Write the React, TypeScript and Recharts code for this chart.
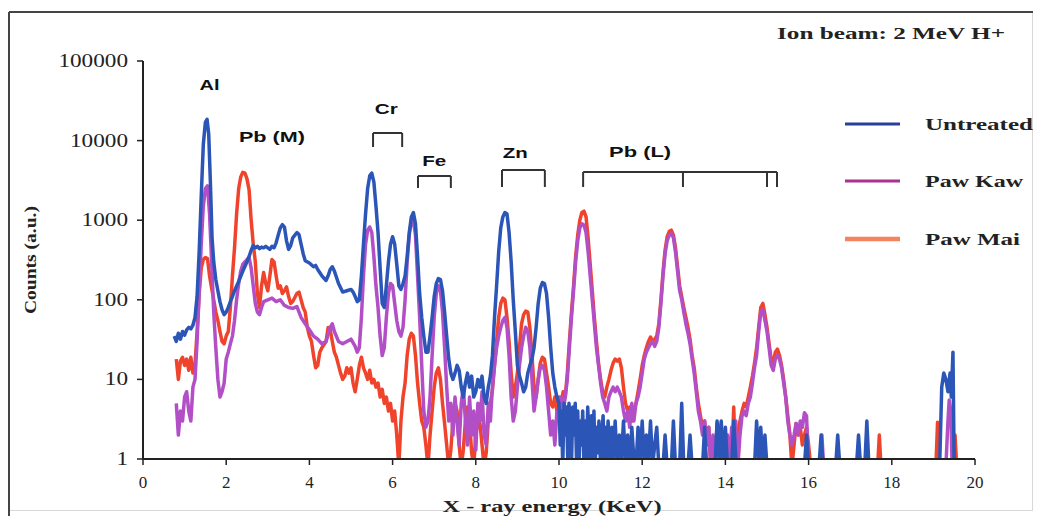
import { LineChart, Line, XAxis, YAxis, ReferenceLine } from 'recharts';

// PIXE spectra, energy (keV) vs counts; 0.8 = empty channel (drawn below the axis)
const untreated: [number, number][] = [
    [0.75, 35], [0.8, 30], [0.85, 38], [0.9, 32], [0.95, 40], [1.0, 36], [1.05, 42], [1.1, 45], [1.15, 43], [1.2, 48],
    [1.25, 60], [1.3, 110], [1.35, 400], [1.4, 2000], [1.45, 9000], [1.5, 17000], [1.54, 18500], [1.58, 12000], [1.62, 3000],
    [1.66, 600], [1.7, 300], [1.75, 180], [1.8, 130], [1.85, 95], [1.9, 75], [1.95, 65], [2.0, 70], [2.05, 80], [2.1, 95],
    [2.15, 110], [2.2, 130], [2.3, 170], [2.4, 230], [2.5, 300], [2.55, 350], [2.6, 420], [2.65, 480], [2.7, 450], [2.75, 470],
    [2.8, 440], [2.85, 460], [2.9, 450], [2.95, 470], [3.0, 450], [3.05, 430], [3.1, 470], [3.15, 450], [3.2, 520], [3.25, 650],
    [3.3, 800], [3.35, 880], [3.4, 820], [3.45, 550], [3.5, 430], [3.55, 480], [3.6, 600], [3.7, 700], [3.75, 660], [3.8, 500],
    [3.85, 380], [3.9, 310], [4.0, 290], [4.1, 260], [4.15, 270], [4.2, 240], [4.3, 200], [4.4, 175], [4.45, 200], [4.5, 240],
    [4.55, 260], [4.6, 230], [4.7, 160], [4.8, 125], [4.9, 130], [5.0, 135], [5.05, 125], [5.1, 110], [5.15, 95], [5.2, 100],
    [5.25, 200], [5.3, 500], [5.35, 1200], [5.4, 2500], [5.45, 3600], [5.5, 3900], [5.55, 3000], [5.6, 1500], [5.65, 700],
    [5.7, 250], [5.75, 90], [5.8, 80], [5.85, 150], [5.9, 300], [5.95, 500], [6.0, 620], [6.05, 500], [6.1, 280], [6.15, 150],
    [6.2, 135], [6.25, 160], [6.3, 200], [6.35, 350], [6.4, 700], [6.45, 1100], [6.5, 1250], [6.55, 900], [6.6, 350],
    [6.65, 120], [6.7, 60], [6.75, 35], [6.8, 22], [6.85, 22], [6.9, 35], [6.95, 60], [7.0, 110], [7.05, 160], [7.1, 185],
    [7.15, 180], [7.2, 130], [7.25, 70], [7.3, 35], [7.35, 18], [7.4, 12], [7.45, 10], [7.5, 12], [7.55, 15], [7.6, 13],
    [7.65, 8], [7.7, 6], [7.75, 9], [7.8, 12], [7.85, 8], [7.9, 11], [7.95, 6], [8.0, 7], [8.05, 10], [8.1, 8], [8.15, 11],
    [8.2, 6], [8.25, 5], [8.3, 8], [8.35, 11], [8.4, 20], [8.45, 60], [8.5, 150], [8.55, 400], [8.6, 800], [8.65, 1100],
    [8.7, 1250], [8.75, 1200], [8.8, 700], [8.85, 300], [8.9, 100], [8.95, 40], [9.0, 15], [9.05, 11], [9.1, 9], [9.15, 7],
    [9.2, 8], [9.25, 12], [9.3, 15], [9.35, 18], [9.4, 25], [9.45, 45], [9.5, 90], [9.55, 140], [9.6, 165], [9.65, 160],
    [9.7, 120], [9.75, 60], [9.8, 25], [9.85, 12], [9.9, 8], [9.95, 6], [10.0, 5], [10.03, 1.5], [10.06, 4], [10.09, 0.8],
    [10.12, 5], [10.15, 2], [10.18, 4.5], [10.21, 1], [10.24, 5], [10.27, 3], [10.3, 0.8], [10.33, 4.5], [10.36, 2], [10.39, 5],
    [10.42, 1], [10.45, 4], [10.48, 0.8], [10.51, 3], [10.54, 1.5], [10.57, 4], [10.6, 0.8], [10.63, 3], [10.66, 1], [10.69, 4.5],
    [10.72, 2], [10.75, 0.8], [10.78, 3.5], [10.81, 1], [10.84, 4], [10.87, 0.8], [10.9, 2.5], [10.93, 1.2], [10.96, 3],
    [11.0, 0.8], [11.03, 2], [11.06, 3.5], [11.09, 1], [11.12, 2.5], [11.15, 0.8], [11.18, 3], [11.21, 1.5], [11.24, 0.8],
    [11.27, 2.5], [11.3, 1], [11.35, 3], [11.4, 0.8], [11.45, 2], [11.5, 1], [11.55, 3], [11.6, 0.8], [11.65, 2], [11.7, 0.8],
    [11.75, 2.5], [11.8, 1], [11.85, 0.8], [11.9, 2.5], [11.95, 1], [12.0, 3], [12.05, 0.8], [12.1, 2], [12.15, 1], [12.2, 3],
    [12.25, 0.8], [12.3, 1.5], [12.35, 2.5], [12.4, 0.8], [12.5, 0.8], [12.55, 2], [12.6, 0.8], [12.7, 0.8], [12.75, 3],
    [12.8, 0.8], [12.9, 0.8], [12.95, 5], [13.0, 0.8], [13.1, 0.8], [13.15, 2], [13.2, 0.8], [13.45, 0.8], [13.5, 2.5],
    [13.55, 0.8], [13.75, 0.8], [13.8, 3], [13.85, 1], [13.9, 3], [13.95, 0.8], [14.0, 2.5], [14.05, 0.8], [14.15, 0.8],
    [14.2, 3], [14.25, 1], [14.3, 0.8], [14.7, 0.8], [14.75, 3], [14.8, 1], [14.85, 2.5], [14.9, 0.8], [14.95, 2], [15.0, 0.8],
    [15.9, 0.8], [15.95, 2], [16.0, 0.8], [16.25, 0.8], [16.3, 2], [16.35, 0.8], [16.65, 0.8], [16.7, 2], [16.75, 0.8],
    [17.15, 0.8], [17.2, 2], [17.25, 0.8], [17.35, 0.8], [17.4, 3], [17.45, 0.8], [19.15, 0.8], [19.2, 8], [19.25, 12],
    [19.3, 10], [19.35, 7], [19.4, 12], [19.43, 6], [19.47, 22], [19.5, 0.8],
];

const pawKaw: [number, number][] = [
    [0.8, 5], [0.85, 2], [0.9, 4], [0.95, 3], [1.0, 6], [1.05, 7], [1.1, 4], [1.15, 3], [1.2, 8], [1.25, 10], [1.3, 30],
    [1.35, 120], [1.4, 500], [1.45, 1500], [1.5, 2500], [1.55, 2700], [1.6, 1200], [1.65, 300], [1.7, 70], [1.75, 25],
    [1.8, 10], [1.85, 6], [1.9, 7], [1.95, 9], [2.0, 18], [2.05, 22], [2.1, 28], [2.15, 35], [2.2, 55], [2.25, 100],
    [2.3, 160], [2.35, 230], [2.4, 280], [2.45, 300], [2.5, 320], [2.55, 340], [2.6, 250], [2.65, 150], [2.7, 90],
    [2.75, 70], [2.8, 65], [2.85, 80], [2.9, 95], [3.0, 100], [3.1, 105], [3.2, 95], [3.3, 100], [3.4, 85], [3.5, 80],
    [3.6, 78], [3.7, 82], [3.8, 60], [3.9, 50], [4.0, 42], [4.1, 35], [4.2, 32], [4.3, 28], [4.4, 30], [4.5, 45], [4.55, 50],
    [4.6, 40], [4.7, 30], [4.8, 28], [4.9, 30], [5.0, 32], [5.1, 26], [5.15, 22], [5.2, 25], [5.25, 60], [5.3, 200],
    [5.35, 500], [5.4, 750], [5.45, 820], [5.5, 700], [5.55, 350], [5.6, 150], [5.65, 80], [5.7, 35], [5.75, 20], [5.8, 25],
    [5.85, 60], [5.9, 120], [5.95, 160], [6.0, 150], [6.05, 90], [6.1, 55], [6.15, 40], [6.2, 35], [6.25, 45], [6.3, 100],
    [6.35, 300], [6.4, 650], [6.45, 950], [6.5, 1000], [6.55, 650], [6.6, 200], [6.65, 60], [6.7, 15], [6.75, 4], [6.8, 2.5],
    [6.85, 3], [6.9, 6], [6.95, 20], [7.0, 60], [7.05, 120], [7.1, 150], [7.15, 130], [7.2, 70], [7.25, 25], [7.3, 8],
    [7.35, 3], [7.4, 5], [7.45, 2], [7.5, 6], [7.55, 3], [7.6, 1.5], [7.65, 5], [7.7, 8], [7.75, 3], [7.8, 1.5], [7.85, 6],
    [7.9, 2], [7.95, 4], [8.0, 1.3], [8.05, 5], [8.1, 3], [8.15, 7], [8.2, 2], [8.25, 1.5], [8.3, 5], [8.35, 3], [8.4, 8],
    [8.45, 15], [8.5, 25], [8.55, 35], [8.6, 45], [8.65, 55], [8.7, 60], [8.75, 45], [8.8, 20], [8.85, 6], [8.9, 3], [8.95, 4],
    [9.0, 8], [9.05, 15], [9.1, 25], [9.15, 35], [9.2, 45], [9.25, 40], [9.3, 25], [9.35, 10], [9.4, 4], [9.45, 6], [9.5, 10],
    [9.55, 14], [9.6, 15], [9.65, 13], [9.7, 8], [9.75, 4], [9.8, 2], [9.85, 3], [9.9, 1.5], [9.95, 4], [10.0, 3], [10.05, 6],
    [10.1, 4], [10.15, 6], [10.2, 10], [10.25, 25], [10.3, 60], [10.35, 130], [10.4, 300], [10.45, 550], [10.5, 800],
    [10.55, 900], [10.6, 870], [10.65, 700], [10.7, 400], [10.75, 200], [10.8, 100], [10.85, 50], [10.9, 25], [10.95, 15],
    [11.0, 9], [11.05, 6], [11.1, 5], [11.15, 4], [11.2, 6], [11.25, 7], [11.3, 8], [11.35, 7], [11.4, 8], [11.45, 7],
    [11.5, 6], [11.55, 4], [11.6, 3], [11.65, 4], [11.7, 2.5], [11.75, 5], [11.8, 3], [11.85, 5], [11.9, 6], [11.95, 8],
    [12.0, 12], [12.05, 18], [12.1, 22], [12.15, 25], [12.2, 28], [12.25, 30], [12.3, 26], [12.35, 30], [12.4, 45],
    [12.45, 90], [12.5, 200], [12.55, 380], [12.6, 550], [12.65, 650], [12.7, 680], [12.75, 600], [12.8, 400], [12.85, 230],
    [12.9, 130], [12.95, 100], [13.0, 70], [13.05, 50], [13.1, 38], [13.15, 28], [13.2, 18], [13.25, 12], [13.3, 7], [13.35, 4],
    [13.4, 3], [13.45, 2], [13.5, 3], [13.55, 1.5], [13.6, 2.5], [13.65, 0.8], [13.7, 2], [13.75, 0.8], [13.8, 2.8], [13.85, 2],
    [13.9, 2.8], [13.95, 0.8], [14.05, 2], [14.1, 0.8], [14.15, 2.5], [14.2, 1.5], [14.25, 3], [14.3, 0.8], [14.35, 2],
    [14.4, 3.5], [14.45, 4], [14.5, 3.5], [14.55, 5], [14.6, 6], [14.65, 9], [14.7, 14], [14.75, 20], [14.8, 40], [14.85, 70],
    [14.9, 75], [14.95, 55], [15.0, 40], [15.05, 25], [15.1, 15], [15.15, 13], [15.2, 18], [15.25, 20], [15.3, 18], [15.35, 14],
    [15.4, 9], [15.45, 6], [15.5, 3], [15.55, 2], [15.6, 1.5], [15.65, 2], [15.7, 2.8], [15.75, 2], [15.8, 3], [15.85, 2.5],
    [15.9, 3.8], [15.95, 3.5], [16.0, 0.8], [16.28, 0.8], [16.32, 2], [16.36, 0.8], [19.3, 0.8], [19.35, 3], [19.38, 5.5],
    [19.42, 4], [19.45, 0.8],
];

const pawMai: [number, number][] = [
    [0.8, 18], [0.85, 10], [0.9, 17], [0.95, 19], [1.0, 15], [1.05, 18], [1.1, 13], [1.15, 19], [1.2, 12], [1.25, 15],
    [1.3, 40], [1.35, 120], [1.4, 250], [1.45, 320], [1.5, 340], [1.55, 330], [1.6, 200], [1.65, 140], [1.7, 100], [1.75, 70],
    [1.8, 55], [1.85, 40], [1.9, 30], [1.95, 28], [2.0, 35], [2.05, 40], [2.1, 80], [2.15, 200], [2.2, 450], [2.25, 1200],
    [2.3, 2500], [2.35, 3500], [2.4, 4000], [2.45, 3900], [2.5, 3300], [2.55, 2400], [2.6, 1000], [2.65, 500], [2.7, 300],
    [2.75, 120], [2.8, 80], [2.85, 150], [2.9, 220], [2.95, 160], [3.0, 130], [3.05, 200], [3.1, 320], [3.15, 300], [3.2, 200],
    [3.25, 140], [3.3, 150], [3.35, 120], [3.4, 130], [3.45, 145], [3.5, 110], [3.55, 90], [3.6, 95], [3.7, 120], [3.75, 125],
    [3.8, 100], [3.85, 80], [3.9, 70], [3.95, 45], [4.0, 35], [4.05, 30], [4.1, 20], [4.15, 14], [4.2, 15], [4.25, 22],
    [4.3, 25], [4.4, 30], [4.45, 45], [4.5, 42], [4.55, 30], [4.6, 22], [4.65, 19], [4.7, 15], [4.75, 12], [4.8, 10],
    [4.85, 11], [4.9, 14], [4.95, 12], [5.0, 14], [5.05, 9], [5.1, 7], [5.15, 10], [5.2, 15], [5.25, 19], [5.3, 14], [5.35, 12],
    [5.4, 10], [5.45, 13], [5.5, 9], [5.55, 10], [5.6, 8], [5.65, 9], [5.7, 6], [5.75, 7.5], [5.8, 5], [5.85, 6], [5.9, 4],
    [5.95, 5], [6.0, 3], [6.05, 4], [6.1, 2], [6.15, 0.8], [6.2, 3], [6.25, 6], [6.3, 9], [6.35, 20], [6.4, 32], [6.45, 38],
    [6.5, 35], [6.55, 20], [6.6, 9], [6.65, 5], [6.7, 3], [6.75, 2.5], [6.8, 1.5], [6.85, 0.8], [6.9, 2], [6.95, 4], [7.0, 8],
    [7.05, 12], [7.1, 14], [7.15, 10], [7.2, 5], [7.25, 2.8], [7.3, 1.5], [7.35, 0.8], [7.4, 1.3], [7.45, 3], [7.5, 5],
    [7.55, 4], [7.6, 1.5], [7.65, 0.8], [7.7, 1.3], [7.75, 3], [7.8, 4.5], [7.85, 3], [7.9, 1.2], [7.95, 0.8], [8.0, 2],
    [8.05, 3], [8.1, 2.8], [8.15, 1.5], [8.2, 0.8], [8.25, 1.2], [8.3, 3], [8.35, 5], [8.4, 7.4], [8.45, 15], [8.5, 30],
    [8.55, 60], [8.6, 90], [8.65, 105], [8.7, 100], [8.75, 60], [8.8, 30], [8.85, 12], [8.9, 6], [8.95, 8], [9.0, 12],
    [9.05, 25], [9.1, 50], [9.15, 65], [9.2, 72], [9.25, 70], [9.3, 45], [9.35, 20], [9.4, 8], [9.45, 6], [9.5, 10], [9.55, 16],
    [9.6, 19], [9.65, 18], [9.7, 12], [9.75, 8], [9.8, 5], [9.85, 4.5], [9.9, 6], [9.95, 4], [10.0, 6], [10.05, 5], [10.1, 7],
    [10.15, 6], [10.2, 12], [10.25, 30], [10.3, 70], [10.35, 150], [10.4, 350], [10.45, 650], [10.5, 1000], [10.55, 1250],
    [10.6, 1300], [10.65, 1100], [10.7, 600], [10.75, 280], [10.8, 130], [10.85, 60], [10.9, 30], [10.95, 16], [11.0, 10],
    [11.05, 7], [11.1, 6], [11.15, 8], [11.2, 10], [11.25, 13], [11.3, 16], [11.35, 18], [11.4, 17], [11.45, 18], [11.5, 14],
    [11.55, 8], [11.6, 5], [11.65, 4], [11.7, 4.5], [11.75, 3], [11.8, 4], [11.85, 5], [11.9, 7], [11.95, 10], [12.0, 15],
    [12.05, 20], [12.1, 25], [12.15, 30], [12.2, 34], [12.25, 30], [12.3, 32], [12.35, 35], [12.4, 50], [12.45, 100],
    [12.5, 220], [12.55, 420], [12.6, 620], [12.65, 720], [12.7, 750], [12.75, 650], [12.8, 450], [12.85, 260], [12.9, 150],
    [12.95, 110], [13.0, 80], [13.05, 60], [13.1, 45], [13.15, 32], [13.2, 20], [13.25, 14], [13.3, 8], [13.35, 5], [13.4, 3.5],
    [13.45, 2.5], [13.5, 3], [13.55, 1.5], [13.6, 2.5], [13.65, 0.8], [14.15, 0.8], [14.2, 4.5], [14.25, 0.8], [14.3, 2],
    [14.35, 3], [14.4, 4], [14.45, 5], [14.5, 4.5], [14.55, 6], [14.6, 8], [14.65, 11], [14.7, 16], [14.75, 25], [14.8, 45],
    [14.85, 80], [14.9, 90], [14.95, 65], [15.0, 45], [15.05, 28], [15.1, 18], [15.15, 16], [15.2, 22], [15.25, 24], [15.3, 20],
    [15.35, 15], [15.4, 10], [15.45, 6], [15.5, 3.5], [15.55, 2], [15.6, 0.8], [15.65, 1.5], [15.7, 2.8], [15.75, 2],
    [15.8, 2.5], [15.85, 1.5], [15.9, 2], [15.95, 2.5], [16.0, 1.5], [16.05, 0.8], [16.66, 0.8], [16.7, 1.4], [16.74, 0.8],
    [17.66, 0.8], [17.7, 2], [17.74, 0.8], [19.06, 0.8], [19.1, 2.9], [19.14, 0.8], [19.48, 0.8], [19.52, 2], [19.56, 0.8],
];

const xTicks = [0, 2, 4, 6, 8, 10, 12, 14, 16, 18, 20];
const yTicks = [1, 10, 100, 1000, 10000, 100000];

// element labels: [text, energy, counts]
const peakLabels: [string, number, number][] = [
    ['Al', 1.6, 50000], ['Pb (M)', 3.1, 11000], ['Cr', 5.85, 25000], ['Fe', 7.0, 5600], ['Zn', 8.95, 7000], ['Pb (L)', 11.95, 7100],
];
// brackets: [from, to, top, bottom, legs]
const brackets: [number, number, number, number, number[]][] = [
    [5.53, 6.23, 12450, 8300, [5.53, 6.23]],
    [6.61, 7.4, 3590, 2540, [6.61, 7.4]],
    [8.63, 9.66, 4270, 2610, [8.63, 9.66]],
    [10.58, 15.24, 4030, 2610, [10.58, 12.98, 15.0, 15.24]],
];

const series = [
    { name: 'Paw Mai', data: pawMai, color: '#f0432c', legend: '#f4845f' },
    { name: 'Paw Kaw', data: pawKaw, color: '#b24fc6', legend: '#a8328f' },
    { name: 'Untreated', data: untreated, color: '#2c55b8', legend: '#2a3f9a' },
];
const legendRows = [
    { name: 'Untreated', y: 124, len: 108 },
    { name: 'Paw Kaw', y: 181, len: 98 },
    { name: 'Paw Mai', y: 239, len: 95 },
];

const serif = '"Liberation Serif", "Times New Roman", serif';
const sans = '"Liberation Sans", Arial, sans-serif';

const toRows = (pts: [number, number][]) => pts.map(([e, c]) => ({ e, c }));

const YTick = (props: any) => {
    const { x, y, payload } = props;
    const s = String(payload.value);
    return (
        <text x={x - 7} y={y} dy={6} textAnchor="end" fontFamily={serif} fontSize={18} fill="#222"
            textLength={s.length * 11.6} lengthAdjust="spacingAndGlyphs">
            {s}
        </text>
    );
};

const XTick = (props: any) => {
    const { x, y, payload } = props;
    return (
        <text x={x} y={y} dy={21} textAnchor="middle" fontFamily={serif} fontSize={17} fill="#222">
            {payload.value}
        </text>
    );
};

export default function App() {
    return (
        <div style={{ position: 'absolute', left: 0, top: 0, width: 1038, height: 516, background: '#fff' }}>
            <LineChart width={1038} height={516} margin={{ top: 61, right: 63, bottom: 27, left: 83 }}>
                <XAxis dataKey="e" type="number" domain={[0, 20]} ticks={xTicks} allowDataOverflow
                    height={30} tick={<XTick />} tickSize={6} axisLine={{ stroke: '#222', strokeWidth: 2 }}
                    tickLine={{ stroke: '#222', strokeWidth: 1.5 }} />
                <YAxis dataKey="c" type="number" scale="log" domain={[1, 100000]} ticks={yTicks} allowDataOverflow
                    width={60} tick={<YTick />} tickSize={6} axisLine={{ stroke: '#222', strokeWidth: 2 }}
                    tickLine={{ stroke: '#222', strokeWidth: 1.5 }} />
                {series.map((s) => (
                    <Line key={s.name} data={toRows(s.data)} dataKey="c" name={s.name} type="linear" stroke={s.color}
                        strokeWidth={3.5} dot={false} isAnimationActive={false} strokeLinejoin="round" />
                ))}
                {brackets.flatMap(([from, to, top, bottom, legs], i) => [
                    <ReferenceLine key={`t${i}`} segment={[{ x: from, y: top }, { x: to, y: top }]} stroke="#333"
                        strokeWidth={2} ifOverflow="visible" />,
                    ...legs.map((lx, j) => (
                        <ReferenceLine key={`l${i}-${j}`} segment={[{ x: lx, y: top }, { x: lx, y: bottom }]} stroke="#333"
                            strokeWidth={2} ifOverflow="visible" />
                    )),
                ])}
            </LineChart>
            <svg width={1038} height={516} style={{ position: 'absolute', left: 0, top: 0, pointerEvents: 'none' }}>
                <rect x={9.5} y={12.5} width={1023} height={498} fill="none" stroke="#d8d8d8" strokeWidth={1} />
                <line x1={9} y1={12} x2={1033} y2={12} stroke="#444" strokeWidth={2} />
                <line x1={9} y1={12} x2={9} y2={516} stroke="#444" strokeWidth={2} />
                {peakLabels.map(([t, e, c]) => {
                    const px = 143 + e * 41.6;
                    const py = 459 - Math.log10(c) * 79.6;
                    const widths: Record<string, number> = { 'Al': 20, 'Pb (M)': 66, 'Cr': 23, 'Fe': 24, 'Zn': 25, 'Pb (L)': 62 };
                    return (
                        <text key={t} x={px} y={py} dy={5} textAnchor="middle" fontFamily={sans} fontWeight="bold"
                            fontSize={14} fill="#111" textLength={widths[t]} lengthAdjust="spacingAndGlyphs">{t}</text>
                    );
                })}
                <text x={777} y={39} fontFamily={serif} fontWeight="bold" fontSize={16} fill="#222"
                    textLength={228} lengthAdjust="spacingAndGlyphs">Ion beam: 2 MeV  H+</text>
                {legendRows.map((r) => {
                    const s = series.find((x) => x.name === r.name)!;
                    return (
                        <g key={r.name}>
                            <line x1={845} y1={r.y} x2={900} y2={r.y} stroke={s.legend} strokeWidth={r.name === 'Paw Mai' ? 4.5 : 3} />
                            <text x={925} y={r.y + 6} fontFamily={serif} fontWeight="bold" fontSize={17} fill="#222"
                                textLength={r.len} lengthAdjust="spacingAndGlyphs">{r.name}</text>
                        </g>
                    );
                })}
                <text x={552} y={512} textAnchor="middle" fontFamily={serif} fontWeight="bold" fontSize={17} fill="#222"
                    textLength={219} lengthAdjust="spacingAndGlyphs">X - ray energy (KeV)</text>
                <text transform="translate(36, 260) rotate(-90)" textAnchor="middle" fontFamily={serif} fontWeight="bold"
                    fontSize={17} fill="#222" textLength={108} lengthAdjust="spacingAndGlyphs">Counts (a.u.)</text>
            </svg>
        </div>
    );
}
